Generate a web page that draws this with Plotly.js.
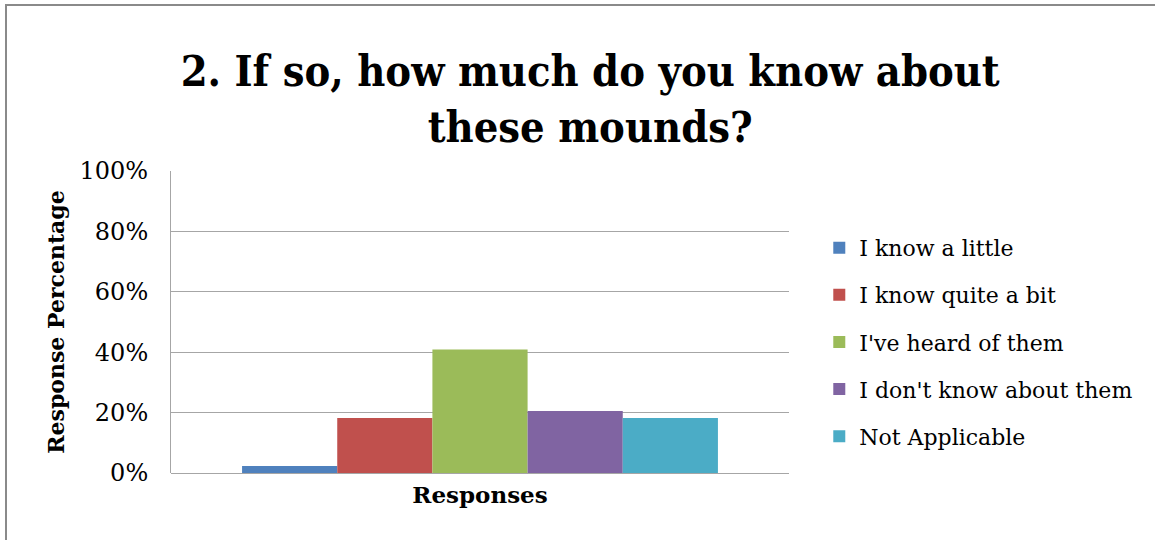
<!DOCTYPE html>
<html>
<head>
<meta charset="utf-8">
<script src="https://cdn.plot.ly/plotly-3.0.1.min.js"></script>
<style>
  html, body { margin: 0; padding: 0; background: #ffffff; }
  #wrap { position: relative; width: 1155px; height: 540px; overflow: hidden; }
  #chart { position: absolute; left: 0; top: 0; width: 1155px; height: 540px; }
  #frame { position: absolute; left: 5px; top: 4px; width: 1200px; height: 600px;
           border: 2px solid #8a8a8a; pointer-events: none; }
</style>
</head>
<body>
<div id="wrap">
  <div id="chart"></div>
  <div id="frame"></div>
</div>
<script>
const chartTitle = "2. If so, how much do you know about<br>these mounds?";
const category = ["Responses"];
const seriesNames = ["I know a little", "I know quite a bit", "I've heard of them", "I don't know about them", "Not Applicable"];
const seriesValues = [0.023, 0.182, 0.409, 0.205, 0.182];
const seriesColors = ["#4F81BD", "#C0504D", "#9BBB59", "#8064A2", "#4BACC6"];
const yTickVals = [0, 0.2, 0.4, 0.6, 0.8, 1.0];
const yTickText = ["0%", "20%", "40%", "60%", "80%", "100%"];

const serif = "DejaVu Serif, Liberation Serif, serif";
const titleFont = "DejaVu Serif Condensed, Liberation Serif, serif";

const traces = seriesNames.map((name, i) => ({
  type: "bar",
  name: name,
  x: category,
  y: [seriesValues[i]],
  marker: { color: seriesColors[i], line: { width: 0 } },
  legendgroup: "g" + i,
  hoverinfo: "name+y"
}));

const layout = {
  width: 1155,
  height: 540,
  paper_bgcolor: "#ffffff",
  plot_bgcolor: "#ffffff",
  margin: { l: 171, r: 366, t: 171, b: 67, autoexpand: false },
  font: { family: serif, color: "#000000" },
  title: {
    text: chartTitle,
    font: { family: titleFont, size: 43, color: "#000000", weight: "bold" },
    xref: "container", x: 0.511, xanchor: "center",
    yref: "container", y: 0.84, yanchor: "top"
  },
  barmode: "group",
  bargap: 0.23,
  bargroupgap: 0,
  xaxis: {
    type: "category",
    showticklabels: false,
    ticks: "",
    showgrid: false,
    showline: false,
    zeroline: false,
    title: { text: "Responses", font: { family: serif, size: 23, weight: "bold" }, standoff: 13 }
  },
  yaxis: {
    range: [0, 1],
    tickvals: yTickVals,
    ticktext: yTickText,
    tickfont: { family: serif, size: 24, color: "#000000" },
    ticks: "",
    ticklabelstandoff: 17,
    showgrid: true,
    gridcolor: "#a6a6a6",
    gridwidth: 1,
    zeroline: true,
    zerolinecolor: "#a6a6a6",
    zerolinewidth: 1,
    showline: true,
    linecolor: "#a6a6a6",
    linewidth: 1,
    title: { text: "Response Percentage", font: { family: serif, size: 22, weight: "bold" }, standoff: 8 }
  },
  showlegend: true,
  legend: {
    x: 1.049, xanchor: "left",
    y: 0.434, yanchor: "middle",
    font: { family: serif, size: 22, color: "#000000" },
    tracegroupgap: 15.5,
    traceorder: "grouped",
    bgcolor: "rgba(0,0,0,0)",
    borderwidth: 0
  }
};

Plotly.newPlot("chart", traces, layout, { displayModeBar: false, staticPlot: true });
</script>
</body>
</html>
